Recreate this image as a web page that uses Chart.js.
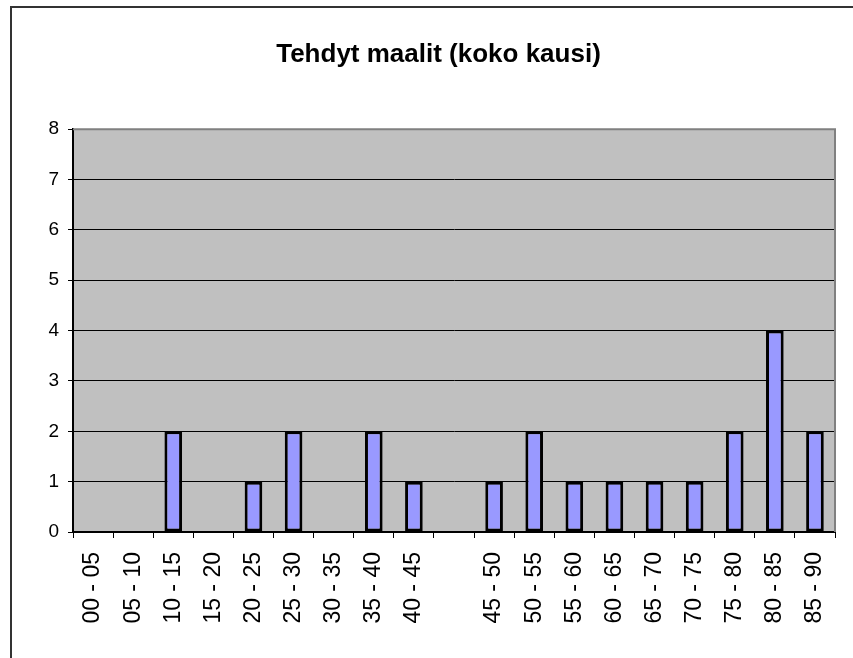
<!DOCTYPE html>
<html>
<head>
<meta charset="utf-8">
<script src="https://cdn.jsdelivr.net/npm/chart.js@4"></script>
<style>
  html,body{margin:0;padding:0;background:#fff;}
  #wrap{width:853px;height:658px;}
</style>
</head>
<body>
<div id="wrap"><canvas id="goals" width="853" height="658"></canvas></div>
<script>
// data
const TITLE = 'Tehdyt maalit (koko kausi)';
const periods = ['00 - 05','05 - 10','10 - 15','15 - 20','20 - 25','25 - 30','30 - 35','35 - 40','40 - 45','',
                 '45 - 50','50 - 55','55 - 60','60 - 65','65 - 70','70 - 75','75 - 80','80 - 85','85 - 90'];
const goals = [0,0,2,0,1,2,0,2,1,null,1,2,1,1,1,1,2,4,2];
const yTicks = [0,1,2,3,4,5,6,7,8];

const FONT = 'Arial, "Liberation Sans", sans-serif';

// grey plot area + outer frame (the chart object border, cropped at right/bottom)
const frame = {
  id: 'frame',
  beforeDraw(c){
    const {ctx, chartArea:a} = c;
    ctx.save();
    ctx.fillStyle = '#fff';
    ctx.fillRect(0,0,c.width,c.height);
    ctx.strokeStyle = '#333';
    ctx.lineWidth = 2;
    ctx.beginPath();
    ctx.moveTo(11, c.height); ctx.lineTo(11, 7); ctx.lineTo(c.width, 7);
    ctx.stroke();
    ctx.fillStyle = '#c0c0c0';
    ctx.fillRect(a.left, a.top, a.right-a.left, a.bottom-a.top);
    ctx.restore();
  },
  afterDatasetsDraw(c){
    const {ctx, chartArea:a} = c;
    ctx.save();
    ctx.strokeStyle = '#808080';
    ctx.lineWidth = 2;
    ctx.beginPath();
    ctx.moveTo(a.left, a.top); ctx.lineTo(a.right, a.top); ctx.lineTo(a.right, a.bottom);
    ctx.stroke();
    ctx.restore();
  }
};

new Chart(document.getElementById('goals'), {
  type: 'bar',
  data: {
    labels: periods,
    datasets: [{
      data: goals,
      backgroundColor: '#9999ff',
      borderColor: '#000',
      borderWidth: 3,
      borderSkipped: false,
      barPercentage: 0.44,
      categoryPercentage: 1
    }]
  },
  options: {
    responsive: false,
    animation: false,
    // left padding shifts the title centre to where the original has it
    layout: { padding: { left: 42, right: 18, top: 0, bottom: 0 } },
    plugins: {
      legend: { display: false },
      tooltip: { enabled: false },
      title: {
        display: true,
        text: TITLE,
        color: '#000',
        font: { family: FONT, size: 26, weight: 'bold', lineHeight: 1.2 },
        padding: { top: 39, bottom: 59 }
      }
    },
    scales: {
      x: {
        offset: true,
        grid: { display: true, drawOnChartArea: false, offset: true, color: '#000', tickLength: 6, lineWidth: 1 },
        border: { display: true, color: '#000', width: 2 },
        ticks: {
          autoSkip: false, minRotation: 90, maxRotation: 90, padding: 14,
          color: '#000', font: { family: FONT, size: 23 }
        },
        afterFit(s){ s.height = 126; s.paddingLeft = 0; s.paddingRight = 0; }
      },
      y: {
        min: 0, max: 8,
        afterBuildTicks(s){ s.ticks = yTicks.map(v => ({value: v})); },
        grid: {
          color: ctx => ctx.tick && ctx.tick.value === 8 ? 'rgba(0,0,0,0)' : '#000',
          tickColor: '#000',
          lineWidth: 1,
          tickLength: 5
        },
        border: { display: true, color: '#000', width: 2 },
        ticks: { padding: 9, color: '#000', font: { family: FONT, size: 19 } },
        afterFit(s){ s.width = 31; }
      }
    }
  },
  plugins: [frame]
});
</script>
</body>
</html>
